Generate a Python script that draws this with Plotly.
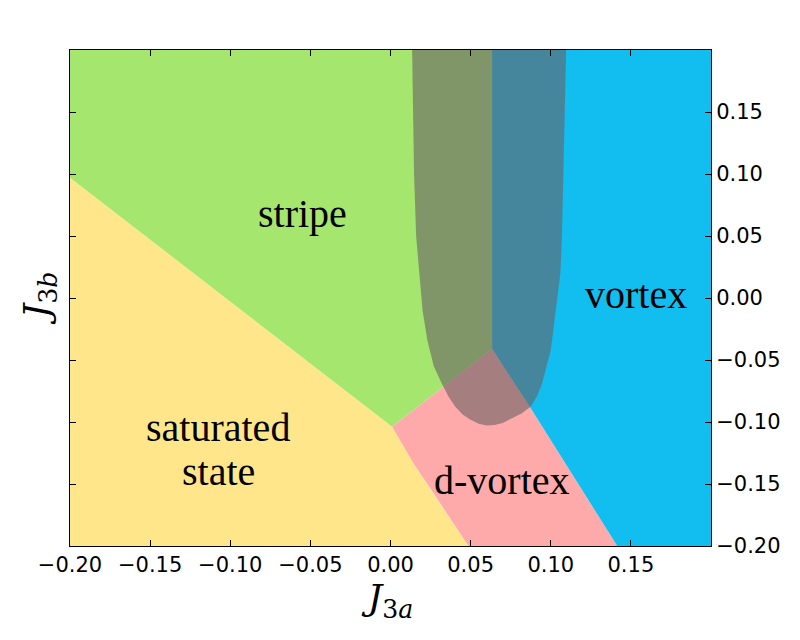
import plotly.graph_objects as go

# ---- data: phase-boundary polygons (J3a, J3b) ----
saturated_x = [-0.2, 0.001, 0.0143, 0.0279, 0.0487, -0.2]
saturated_y = [0.097, -0.1038, -0.1333, -0.1602, -0.2, -0.2]

stripe_x = [-0.2, 0.0634, 0.0634, 0.001, -0.2]
stripe_y = [0.2, 0.2, -0.041, -0.1038, 0.097]

dvortex_x = [0.001, 0.0634, 0.087, 0.1415, 0.0487, 0.0279, 0.0143]
dvortex_y = [-0.1038, -0.041, -0.088, -0.2, -0.2, -0.1602, -0.1333]

vortex_x = [0.0634, 0.2, 0.2, 0.1415, 0.087, 0.0634]
vortex_y = [0.2, 0.2, -0.2, -0.2, -0.088, -0.041]

overlay_x = [0.0135, 0.0140, 0.0147, 0.016, 0.018, 0.020, 0.023, 0.027, 0.032,
             0.036, 0.0403, 0.045, 0.0497, 0.055, 0.060, 0.065, 0.070, 0.0747,
             0.082, 0.0876, 0.0915, 0.0946, 0.0975, 0.100, 0.1016, 0.104, 0.106,
             0.107, 0.108, 0.109, 0.1096]
overlay_y = [0.2, 0.15, 0.10, 0.05, 0.02, -0.01, -0.034, -0.055, -0.069,
             -0.079, -0.0876, -0.094, -0.098, -0.1015, -0.1028, -0.1025, -0.1008, -0.098,
             -0.093, -0.0876, -0.079, -0.069, -0.055, -0.042, -0.026, 0.0, 0.02,
             0.05, 0.10, 0.15, 0.2]

phase_labels = ["stripe", "saturated", "state", "d-vortex", "vortex"]
label_x = [-0.055, -0.1076, -0.1076, 0.0697, 0.1533]
label_y = [0.0685, -0.1048, -0.1403, -0.147, 0.0025]

xtick_vals = [-0.20, -0.15, -0.10, -0.05, 0.00, 0.05, 0.10, 0.15]
ytick_vals = [-0.20, -0.15, -0.10, -0.05, 0.00, 0.05, 0.10, 0.15]


def fmt(v):
    s = f"{abs(v):.2f}"
    return ("\u2212" + s) if v < -1e-12 else s


fig = go.Figure()

regions = [
    (saturated_x, saturated_y, "#FFE68A"),
    (stripe_x, stripe_y, "#A5E66E"),
    (dvortex_x, dvortex_y, "#FFAAAA"),
    (vortex_x, vortex_y, "#12BEF0"),
]
for xs, ys, col in regions:
    fig.add_trace(go.Scatter(x=xs, y=ys, fill="toself", fillcolor=col,
                             mode="lines", line=dict(width=0, color=col),
                             hoverinfo="skip", showlegend=False))

fig.add_trace(go.Scatter(x=overlay_x, y=overlay_y, fill="toself",
                         fillcolor="rgba(105,97,100,0.6)", mode="lines",
                         line=dict(width=0, color="rgba(0,0,0,0)"),
                         hoverinfo="skip", showlegend=False))

for t, x, y in zip(phase_labels, label_x, label_y):
    fig.add_annotation(x=x, y=y, text=t, showarrow=False,
                       font=dict(family="Liberation Serif", size=40, color="black"))

fig.update_xaxes(range=[-0.2, 0.2], tickvals=xtick_vals,
                 ticktext=[fmt(v) for v in xtick_vals],
                 ticks="inside", ticklen=6, tickcolor="black",
                 showline=True, linecolor="black", linewidth=1, mirror="ticks",
                 showgrid=False, zeroline=False,
                 tickfont=dict(family="DejaVu Sans", size=21, color="black"),
                 title=dict(text="<i>J</i><sub>3<i>a</i></sub>",
                            font=dict(family="DejaVu Serif", size=36, color="black"),
                            standoff=8))
fig.update_yaxes(range=[-0.2, 0.2], tickvals=ytick_vals,
                 ticktext=[fmt(v) for v in ytick_vals], side="right",
                 ticks="inside", ticklen=6, tickcolor="black",
                 showline=True, linecolor="black", linewidth=1, mirror="ticks",
                 showgrid=False, zeroline=False,
                 tickfont=dict(family="DejaVu Sans", size=21, color="black"))

fig.add_annotation(xref="paper", yref="paper", x=-0.048, y=0.5,
                   text="<i>J</i><sub>3<i>b</i></sub>", textangle=-90,
                   showarrow=False, xanchor="center", yanchor="middle",
                   font=dict(family="DejaVu Serif", size=36, color="black"))

fig.update_layout(width=800, height=640,
                  margin=dict(l=62, r=97, t=42, b=102),
                  plot_bgcolor="white", paper_bgcolor="white")

fig.write_html("out.html")
